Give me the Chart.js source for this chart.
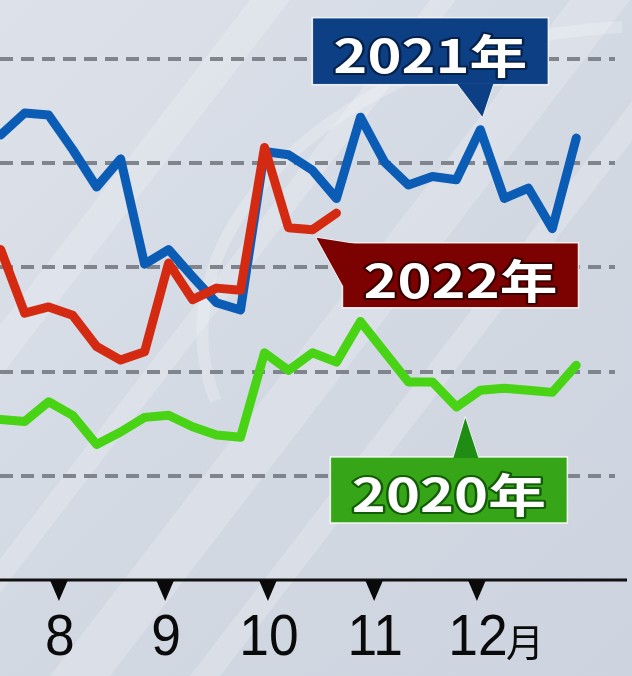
<!DOCTYPE html>
<html lang="ja">
<head>
<meta charset="utf-8">
<script src="https://cdn.jsdelivr.net/npm/chart.js@4.4.1/dist/chart.umd.min.js"></script>
<style>
    html, body { margin: 0; padding: 0; background: #d5dbe4; }
    #contenedor { width: 632px; height: 676px; }
</style>
</head>
<body>
<div id="contenedor"><canvas id="grafico" width="632" height="676"></canvas></div>
<script>
// semanas (mes/dia) y valores
const semanas = ['7/15', '7/22', '7/29', '8/5', '8/12', '8/19', '8/26', '9/2', '9/9', '9/16', '9/23', '9/30',
                 '10/7', '10/14', '10/21', '10/28', '11/4', '11/11', '11/18', '11/25', '12/2', '12/9', '12/16', '12/23', '12/30'];
const serie2020 = [154, 152, 171, 158, 130, 142, 156, 158, 147, 139, 137, 218, 201, 218, 209, 248, 219, 190, 190, 166, 182, 184, 182, 180, 206];
const serie2021 = [427, 448, 446, 413, 377, 404, 303, 317, 291, 266, 259, 411, 408, 393, 366, 444, 401, 379, 387, 384, 432, 366, 376, 337, 424];
const serie2022 = [317, 256, 262, 254, 224, 211, 219, 304, 269, 280, 278, 415, 338, 336, 352];
const meses = ['8', '9', '10', '11', '12'];
const sufijoMes = '月';
const lineasGuia = [100, 200, 300, 400, 500];

const DIAS_MES = [31, 28, 31, 30, 31, 30, 31, 31, 30, 31, 30, 31];

function diaDelAno(txt) {
    const [m, d] = txt.split('/').map(Number);
    let n = d;
    for (let i = 0; i < m - 1; i++) n += DIAS_MES[i];
    return n;
}

function puntos(serie) {
    return serie.map((v, i) => ({ x: diaDelAno(semanas[i]), y: v }));
}

// fondo gris azulado con reflejos diagonales
const pluginFondo = {
    id: 'fondo',
    beforeDraw(chart) {
        const ctx = chart.ctx;
        const w = chart.width, h = chart.height;
        ctx.save();
        const g = ctx.createLinearGradient(0, 0, w, h);
        g.addColorStop(0, '#dde2ea');
        g.addColorStop(0.5, '#d3d9e3');
        g.addColorStop(1, '#cdd4df');
        ctx.fillStyle = g;
        ctx.fillRect(0, 0, w, h);

        ctx.fillStyle = 'rgba(255,255,255,0.2)';
        const bandas = [[150, 40], [330, 26], [470, 60], [610, 30]];
        bandas.forEach(([x0, ancho]) => {
            ctx.beginPath();
            ctx.moveTo(x0 - 420, h);
            ctx.lineTo(x0 - 420 + ancho, h);
            ctx.lineTo(x0 + ancho + 100, 0);
            ctx.lineTo(x0 + 100, 0);
            ctx.closePath();
            ctx.fill();
        });

        ctx.strokeStyle = 'rgba(255,255,255,0.22)';
        ctx.lineWidth = 12;
        ctx.beginPath();
        ctx.ellipse(600, 300, 400, 270, -0.15, Math.PI * 0.95, Math.PI * 1.55);
        ctx.stroke();
        ctx.restore();
    }
};

// eje inferior con triangulos y etiquetas de mes
const pluginEje = {
    id: 'ejeMeses',
    afterDatasetsDraw(chart) {
        const ctx = chart.ctx;
        const xs = chart.scales.x;
        const base = chart.scales.y.getPixelForValue(0);
        ctx.save();
        ctx.strokeStyle = '#111';
        ctx.lineWidth = 3;
        ctx.beginPath();
        ctx.moveTo(0, base);
        ctx.lineTo(627, base);
        ctx.stroke();

        ctx.fillStyle = '#0a0a0a';
        meses.forEach((m, i) => {
            const x = xs.getPixelForValue(diaDelAno(m + '/1'));
            ctx.beginPath();
            ctx.moveTo(x - 9, base);
            ctx.lineTo(x + 9, base);
            ctx.lineTo(x, base + 21);
            ctx.closePath();
            ctx.fill();

            ctx.font = '58px "Liberation Sans", Arial, sans-serif';
            ctx.textAlign = 'center';
            ctx.textBaseline = 'alphabetic';
            ctx.save();
            ctx.translate(x + 1, base + 75);
            ctx.scale(0.92, 1);
            ctx.fillText(m, 0, 0);
            ctx.restore();
            if (i === meses.length - 1) {
                ctx.font = '38px "Noto Sans CJK JP", sans-serif';
                ctx.textAlign = 'left';
                ctx.fillText(sufijoMes, x + 29, base + 76);
            }
        });
        ctx.restore();
    }
};

function globo(ctx, caja, triangulo, color, colorPunta, borde, texto) {
    ctx.save();
    ctx.fillStyle = colorPunta;
    ctx.strokeStyle = 'rgba(255,255,255,0.85)';
    ctx.lineWidth = 1.5;
    ctx.beginPath();
    ctx.moveTo(triangulo[0][0], triangulo[0][1]);
    ctx.lineTo(triangulo[1][0], triangulo[1][1]);
    ctx.lineTo(triangulo[2][0], triangulo[2][1]);
    ctx.closePath();
    ctx.fill();
    ctx.stroke();

    ctx.fillStyle = color;
    ctx.fillRect(caja.x, caja.y, caja.w, caja.h);
    ctx.strokeRect(caja.x, caja.y, caja.w, caja.h);
    // tapar la union entre punta y caja
    ctx.fillStyle = colorPunta;
    ctx.beginPath();
    ctx.moveTo(triangulo[0][0], triangulo[0][1]);
    ctx.lineTo(triangulo[1][0], triangulo[1][1]);
    ctx.lineTo(triangulo[2][0], triangulo[2][1]);
    ctx.closePath();
    ctx.fill();

    ctx.font = 'bold 46px "Noto Sans CJK JP", sans-serif';
    ctx.textAlign = 'center';
    ctx.textBaseline = 'alphabetic';
    const ancho = ctx.measureText(texto).width;
    ctx.translate(caja.x + caja.w / 2, caja.y + 55);
    ctx.scale(194 / ancho, 1);
    ctx.lineJoin = 'round';
    ctx.lineWidth = 4;
    ctx.strokeStyle = borde;
    ctx.strokeText(texto, 0, 0);
    ctx.fillStyle = '#ffffff';
    ctx.fillText(texto, 0, 0);
    ctx.restore();
}

const pluginGlobos = {
    id: 'globos',
    afterDraw(chart) {
        const ctx = chart.ctx;
        const p21 = chart.getDatasetMeta(1).data[20];
        const p22 = chart.getDatasetMeta(0).data[13];
        const p20 = chart.getDatasetMeta(2).data[19];

        // 2021
        let t = { x: p21.x + 2, y: p21.y - 13 };
        let c = { x: t.x - 170, y: t.y - 99, w: 236, h: 67 };
        globo(ctx, c, [[t.x - 25, c.y + c.h - 1], [t.x + 11, c.y + c.h - 1], [t.x, t.y]],
              '#0d3f84', '#0d3f84', '#06214a', '2021年');

        // 2022
        t = { x: p22.x + 4, y: p22.y + 8 };
        c = { x: t.x + 26, y: t.y + 5, w: 236, h: 65 };
        globo(ctx, c, [[t.x, t.y], [c.x + 12, c.y + 1], [c.x + 1, c.y + 44]],
              '#7c0202', '#7c0202', '#3a0000', '2022年');

        // 2020
        t = { x: p20.x + 9, y: p20.y + 11 };
        c = { x: t.x - 135, y: t.y + 39, w: 237, h: 66 };
        globo(ctx, c, [[t.x - 12, c.y + 1], [t.x + 13, c.y + 1], [t.x, t.y]],
              '#36a518', '#1f8c14', '#135c08', '2020年');
    }
};

const grafico = new Chart(document.getElementById('grafico'), {
    type: 'line',
    data: {
        datasets: [
            {
                label: '2022年',
                data: puntos(serie2022),
                borderColor: '#d42a12',
                borderWidth: 9,
                order: 0
            },
            {
                label: '2021年',
                data: puntos(serie2021),
                borderColor: '#0b5cb5',
                borderWidth: 9,
                order: 1
            },
            {
                label: '2020年',
                data: puntos(serie2020),
                borderColor: '#48d314',
                borderWidth: 9,
                order: 2
            }
        ]
    },
    options: {
        responsive: false,
        animation: false,
        devicePixelRatio: 1,
        layout: { padding: { left: 0, right: 17, top: 0, bottom: 96 } },
        elements: {
            point: { radius: 0 },
            line: { tension: 0, borderJoinStyle: 'round', borderCapStyle: 'round' }
        },
        plugins: {
            legend: { display: false },
            tooltip: { enabled: false }
        },
        scales: {
            x: {
                type: 'linear',
                min: 195.8,
                max: 375.3,
                display: false
            },
            y: {
                min: 0,
                max: 556.4,
                afterBuildTicks(scale) {
                    scale.ticks = lineasGuia.map(v => ({ value: v }));
                },
                ticks: { display: false },
                grid: {
                    drawTicks: false,
                    color: '#7f848d',
                    lineWidth: 4
                },
                border: { display: false, dash: [13, 8] }
            }
        }
    },
    plugins: [pluginFondo, pluginEje, pluginGlobos]
});
</script>
</body>
</html>
